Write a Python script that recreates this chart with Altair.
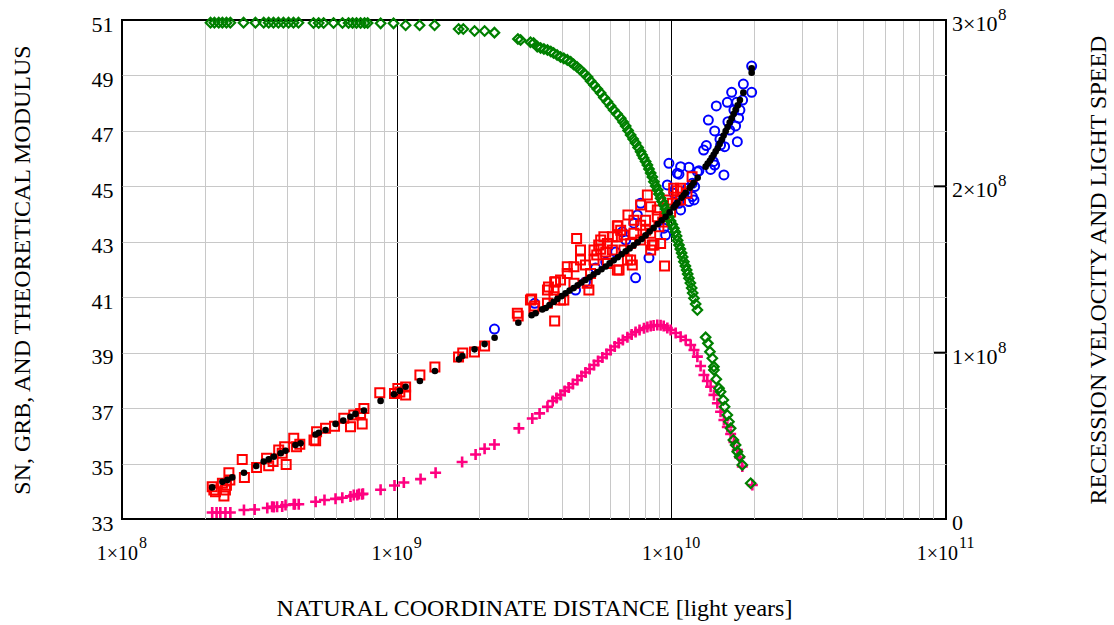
import altair as alt
import pandas as pd

FONT = "Liberation Serif"
W, H = 824, 499

# ---------------- Supernovae: distance [ly] and distance modulus ----------------
sn_dist = [
    2.13e8, 2.16e8, 2.19e8, 2.35e8, 2.32e8, 2.40e8, 2.45e8, 2.38e8, 2.47e8, 2.74e8,
    2.79e8, 3.09e8, 3.36e8, 3.42e8, 3.55e8, 3.72e8, 3.83e8, 3.91e8, 3.96e8, 4.22e8,
    4.32e8, 4.44e8, 5.00e8, 5.11e8, 5.07e8, 5.51e8, 5.94e8, 6.42e8, 6.79e8, 6.98e8,
    7.49e8, 7.60e8, 7.39e8, 8.68e8, 9.82e8, 1.010e9, 1.027e9, 1.078e9, 1.078e9, 1.215e9,
    1.378e9, 1.68e9, 1.74e9, 1.92e9, 2.09e9, 2.77e9, 3.10e9, 3.18e9, 3.76e9, 3.57e9,
    3.76e9,
    3.79e9, 4.52e9, 5.23e9, 5.53e9, 6.36e9, 6.95e9, 8.18e9, 9.45e9, 8.53e9, 7.21e9,
    6.45e9, 5.01e9, 4.94e9, 7.73e9, 1.05e10, 1.19e10, 1.01e10, 8.89e9, 7.73e9, 6.72e9,
    5.85e9, 4.67e9, 4.18e9, 3.95e9, 4.42e9, 5.23e9, 6.10e9, 7.11e9, 8.41e9, 9.01e9,
    6.72e9, 5.85e9, 5.08e9, 4.42e9, 3.74e9, 3.54e9, 3.95e9, 7.11e9, 8.41e9, 9.14e9,
    8.89e9, 9.67e9, 8.41e9, 7.31e9, 6.54e9, 5.68e9, 6.36e9, 1.08e10, 1.14e10, 6.39e9,
    3.07e9, 3.16e9, 2.75e9, 6.36e9, 4.06e9, 1.02e10, 1.08e10, 8.64e9, 6.92e9, 5.35e9,
    5.77e9, 7.73e9, 8.06e9, 9.30e9, 9.94e9, 4.87e9, 5.44e9, 4.18e9, 4.67e9, 5.53e9,
    6.10e9, 7.31e9, 8.06e9, 9.45e9, 1.05e10, 3.74e9, 3.54e9,
]
sn_mu = [
    34.16, 34.05, 33.98, 33.83, 34.29, 34.22, 34.67, 34.05, 34.41, 35.15,
    34.50, 34.86, 35.19, 34.92, 35.07, 35.49, 35.37, 35.61, 34.97, 35.91,
    35.61, 35.70, 35.85, 36.15, 35.82, 36.27, 36.35, 36.63, 36.33, 36.75,
    36.43, 36.99, 36.81, 37.55, 37.53, 37.71, 37.58, 37.76, 37.47, 38.19,
    38.48, 38.84, 38.99, 39.02, 39.24, 40.32, 40.94, 40.68, 40.14, 41.37,
    41.55,
    41.56, 43.12, 42.70, 42.73, 43.57, 43.97, 44.69, 42.13, 42.88, 42.16,
    41.98, 41.26, 41.50, 44.33, 44.84, 45.35, 44.39, 43.90, 43.60, 43.24,
    42.94, 42.34, 41.86, 41.62, 42.10, 42.34, 42.70, 42.94, 43.31, 43.54,
    42.70, 42.22, 41.86, 41.50, 41.02, 40.78, 40.90, 42.34, 42.70, 42.94,
    44.15, 44.51, 44.26, 43.78, 43.42, 43.18, 43.18, 44.51, 44.75, 43.58,
    40.90, 40.60, 40.42, 41.98, 40.90, 44.93, 44.93, 42.88, 42.34, 42.52,
    42.63, 43.06, 43.42, 43.71, 44.07, 42.16, 42.88, 42.10, 42.70, 43.06,
    43.18, 43.31, 43.78, 43.90, 44.51, 41.26, 41.26,
]

# ---------------- Gamma-ray bursts: distance [ly] and distance modulus ----------------
grb_dist = [
    2.27e9, 3.18e9, 4.48e9, 4.87e9, 5.30e9, 5.77e9, 6.27e9, 6.63e9, 6.82e9, 7.31e9,
    7.41e9, 7.52e9, 7.73e9, 8.29e9, 9.40e9, 9.53e9, 9.67e9, 9.80e9, 1.022e10, 1.051e10,
    1.066e10, 1.066e10, 1.081e10, 1.081e10, 1.144e10, 1.159e10, 1.159e10, 1.193e10, 1.193e10, 1.209e10,
    1.216e10, 1.244e10, 1.260e10, 1.341e10, 1.364e10, 1.390e10, 1.422e10, 1.438e10, 1.438e10, 1.458e10,
    1.503e10, 1.554e10, 1.563e10, 1.599e10, 1.607e10, 1.658e10, 1.690e10, 1.714e10, 1.729e10, 1.739e10,
    1.777e10, 1.829e10, 1.961e10, 1.961e10, 1.511e10, 1.631e10, 1.758e10, 1.818e10, 1.311e10,
]
grb_mu = [
    39.85, 40.78, 41.26, 41.55, 42.05, 42.27, 42.63, 43.36, 43.06, 43.67,
    41.70, 43.97, 44.39, 42.42, 43.49, 43.24, 45.05, 45.83, 44.75, 45.47,
    44.39, 45.44, 45.71, 44.15, 44.93, 45.69, 44.45, 45.11, 44.63, 44.51,
    44.99, 45.53, 45.56, 46.47, 47.39, 45.61, 45.89, 47.00, 45.77, 47.90,
    46.70, 45.41, 46.43, 48.03, 47.33, 48.39, 47.75, 47.18, 48.03, 46.61,
    47.75, 48.69, 49.34, 48.39, 46.49, 47.03, 47.46, 48.11, 46.31,
]

# ---------------- Theoretical modulus: distance [ly] and modulus ----------------
model_dist = [
    2.13e8, 2.32e8, 2.42e8, 2.52e8, 2.78e8, 3.08e8, 3.28e8, 3.42e8, 3.57e8, 3.78e8,
    3.94e8, 4.28e8, 4.47e8, 5.07e8, 5.21e8, 5.51e8, 5.99e8, 6.39e8, 6.79e8, 7.08e8,
    7.60e8, 8.74e8, 9.77e8, 1.027e9, 1.078e9, 1.215e9, 1.378e9, 1.685e9, 1.734e9, 1.921e9,
    2.090e9, 2.273e9, 2.773e9, 3.099e9, 3.205e9, 3.390e9,
    3.49e9, 3.60e9, 3.73e9, 3.85e9, 3.99e9, 4.12e9, 4.26e9, 4.41e9, 4.56e9, 4.71e9,
    4.87e9, 5.04e9, 5.21e9, 5.39e9, 5.57e9, 5.77e9, 5.96e9, 6.17e9, 6.38e9, 6.59e9,
    6.82e9, 7.05e9, 7.29e9, 7.54e9, 7.80e9, 8.06e9, 8.34e9, 8.62e9, 8.92e9, 9.22e9,
    9.53e9, 9.86e9, 1.019e10, 1.037e10, 1.054e10, 1.090e10, 1.109e10, 1.128e10, 1.166e10, 1.186e10,
    1.206e10, 1.247e10, 1.333e10, 1.356e10, 1.382e10, 1.403e10, 1.426e10, 1.450e10, 1.474e10, 1.499e10,
    1.525e10, 1.550e10, 1.577e10, 1.603e10, 1.631e10, 1.658e10, 1.686e10, 1.714e10, 1.744e10, 1.777e10,
    1.829e10, 1.961e10, 1.961e10,
]
model_mu = [
    34.14, 34.34, 34.41, 34.50, 34.67, 34.91, 35.07, 35.15, 35.25, 35.37,
    35.46, 35.67, 35.73, 36.05, 36.11, 36.21, 36.43, 36.55, 36.69, 36.79,
    36.91, 37.26, 37.50, 37.62, 37.77, 37.98, 38.34, 38.76, 38.88, 39.12,
    39.31, 39.54, 40.08, 40.35, 40.42, 40.56,
    40.61, 40.72, 40.83, 40.94, 41.04, 41.14, 41.24, 41.33, 41.43, 41.53,
    41.62, 41.72, 41.82, 41.91, 42.01, 42.11, 42.22, 42.33, 42.44, 42.55,
    42.66, 42.76, 42.87, 42.98, 43.10, 43.23, 43.37, 43.50, 43.64, 43.77,
    43.90, 44.06, 44.24, 44.33, 44.41, 44.59, 44.68, 44.77, 44.95, 45.04,
    45.13, 45.31, 45.71, 45.82, 45.92, 46.03, 46.14, 46.26, 46.37, 46.53,
    46.68, 46.83, 46.99, 47.14, 47.30, 47.45, 47.61, 47.76, 47.92, 48.11,
    48.38, 49.10, 49.26,
]

# ---------------- Light speed [m/s] along the distance ----------------
light_dist = [
    2.10e8, 2.17e8, 2.25e8, 2.32e8, 2.40e8, 2.48e8, 2.77e8, 3.06e8, 3.28e8, 3.42e8,
    3.56e8, 3.71e8, 3.87e8, 4.04e8, 4.21e8, 4.39e8, 4.98e8, 5.20e8, 5.42e8, 5.89e8,
    6.35e8, 6.68e8, 6.91e8, 7.14e8, 7.39e8, 7.64e8, 7.84e8, 8.74e8, 9.74e8, 1.078e9,
    1.212e9, 1.374e9, 1.681e9, 1.748e9, 1.921e9, 2.090e9, 2.27e9, 2.763e9, 2.826e9, 3.07e9,
    3.151e9, 3.25e9,
    3.342e9, 3.436e9, 3.54e9, 3.64e9, 3.727e9, 3.838e9, 3.95e9, 4.06e9, 4.18e9, 4.30e9,
    4.408e9, 4.539e9, 4.67e9, 4.813e9, 4.956e9, 5.08e9, 5.23e9, 5.377e9, 5.53e9, 5.68e9,
    5.85e9, 6.01e9, 6.165e9, 6.348e9, 6.54e9, 6.675e9, 6.82e9, 6.96e9, 7.11e9, 7.259e9,
    7.41e9, 7.571e9, 7.73e9, 7.83e9, 7.93e9, 8.06e9, 8.18e9, 8.29e9, 8.41e9, 8.53e9,
    8.64e9, 8.77e9, 8.92e9, 9.01e9, 9.14e9, 9.26e9, 9.38e9, 9.53e9, 9.67e9, 9.80e9,
    9.94e9, 1.008e10, 1.022e10, 1.034e10, 1.045e10, 1.054e10, 1.066e10, 1.078e10, 1.090e10, 1.100e10,
    1.111e10, 1.125e10, 1.137e10, 1.147e10, 1.159e10, 1.173e10, 1.186e10, 1.196e10, 1.209e10, 1.226e10,
    1.244e10,
    1.333e10, 1.359e10, 1.382e10, 1.410e10, 1.429e10, 1.429e10, 1.458e10, 1.491e10, 1.511e10, 1.546e10,
    1.563e10, 1.599e10, 1.621e10, 1.644e10, 1.682e10, 1.714e10, 1.739e10, 1.773e10, 1.813e10, 1.945e10,
]
light_speed = [
    2.984e8, 2.984e8, 2.984e8, 2.984e8, 2.984e8, 2.984e8, 2.984e8, 2.984e8, 2.984e8, 2.984e8,
    2.984e8, 2.984e8, 2.984e8, 2.984e8, 2.984e8, 2.984e8, 2.982e8, 2.982e8, 2.982e8, 2.982e8,
    2.982e8, 2.982e8, 2.982e8, 2.982e8, 2.982e8, 2.982e8, 2.982e8, 2.980e8, 2.980e8, 2.968e8,
    2.968e8, 2.968e8, 2.946e8, 2.946e8, 2.934e8, 2.934e8, 2.924e8, 2.886e8, 2.880e8, 2.866e8,
    2.862e8, 2.840e8,
    2.832e8, 2.826e8, 2.820e8, 2.811e8, 2.802e8, 2.790e8, 2.778e8, 2.769e8, 2.760e8, 2.748e8,
    2.733e8, 2.717e8, 2.699e8, 2.678e8, 2.657e8, 2.633e8, 2.609e8, 2.585e8, 2.561e8, 2.534e8,
    2.509e8, 2.483e8, 2.459e8, 2.435e8, 2.409e8, 2.387e8, 2.363e8, 2.336e8, 2.309e8, 2.285e8,
    2.261e8, 2.234e8, 2.208e8, 2.188e8, 2.170e8, 2.149e8, 2.128e8, 2.104e8, 2.080e8, 2.056e8,
    2.028e8, 2.002e8, 1.978e8, 1.954e8, 1.928e8, 1.909e8, 1.888e8, 1.864e8, 1.838e8, 1.816e8,
    1.792e8, 1.771e8, 1.748e8, 1.725e8, 1.701e8, 1.674e8, 1.647e8, 1.623e8, 1.599e8, 1.575e8,
    1.547e8, 1.521e8, 1.497e8, 1.473e8, 1.447e8, 1.419e8, 1.389e8, 1.359e8, 1.327e8, 1.293e8,
    1.257e8,
    1.092e8, 1.056e8, 1.006e8, 0.966e8, 0.916e8, 0.896e8, 0.840e8, 0.786e8, 0.765e8, 0.715e8,
    0.675e8, 0.625e8, 0.585e8, 0.545e8, 0.475e8, 0.445e8, 0.405e8, 0.375e8, 0.325e8, 0.215e8,
]

# ---------------- Recession velocity [m/s] along the distance ----------------
recession_dist = [
    2.13e8, 2.21e8, 2.28e8, 2.38e8, 2.48e8, 2.78e8, 3.04e8, 3.38e8, 3.52e8, 3.57e8,
    3.67e8, 3.83e8, 3.94e8, 4.22e8, 4.26e8, 4.40e8, 5.07e8, 5.46e8, 5.99e8, 6.34e8,
    6.79e8, 6.98e8, 7.19e8, 7.29e8, 7.49e8, 7.54e8, 8.74e8, 9.82e8, 1.062e9, 1.222e9,
    1.386e9, 1.731e9, 1.938e9, 2.09e9, 2.27e9, 2.786e9, 3.117e9, 3.314e9, 3.54e9,
    3.70e9, 3.82e9, 3.95e9, 4.09e9, 4.23e9, 4.38e9, 4.55e9, 4.71e9, 4.87e9, 5.04e9,
    5.23e9, 5.41e9, 5.61e9, 5.81e9, 6.01e9, 6.22e9, 6.43e9, 6.66e9, 6.92e9, 7.17e9,
    7.41e9, 7.66e9, 7.95e9, 8.18e9, 8.41e9, 8.62e9, 8.89e9, 9.14e9, 9.38e9, 9.67e9,
    9.94e9, 1.037e10, 1.081e10, 1.128e10, 1.176e10, 1.209e10, 1.244e10, 1.278e10, 1.314e10, 1.352e10,
    1.390e10, 1.429e10, 1.471e10, 1.511e10, 1.554e10, 1.599e10, 1.644e10, 1.690e10, 1.739e10, 1.773e10,
    1.813e10, 1.972e10,
]
recession_vel = [
    0.039e8, 0.039e8, 0.039e8, 0.039e8, 0.039e8, 0.054e8, 0.057e8, 0.066e8, 0.074e8, 0.072e8,
    0.074e8, 0.075e8, 0.084e8, 0.089e8, 0.088e8, 0.089e8, 0.104e8, 0.114e8, 0.121e8, 0.128e8,
    0.136e8, 0.144e8, 0.144e8, 0.150e8, 0.149e8, 0.152e8, 0.176e8, 0.201e8, 0.219e8, 0.240e8,
    0.278e8, 0.343e8, 0.388e8, 0.422e8, 0.448e8, 0.545e8, 0.604e8, 0.635e8, 0.675e8,
    0.709e8, 0.727e8, 0.746e8, 0.770e8, 0.791e8, 0.812e8, 0.836e8, 0.860e8, 0.881e8, 0.902e8,
    0.926e8, 0.950e8, 0.971e8, 0.992e8, 1.016e8, 1.037e8, 1.058e8, 1.076e8, 1.092e8, 1.109e8,
    1.124e8, 1.136e8, 1.147e8, 1.154e8, 1.160e8, 1.163e8, 1.166e8, 1.165e8, 1.160e8, 1.148e8,
    1.136e8, 1.118e8, 1.096e8, 1.076e8, 1.046e8, 1.016e8, 0.976e8, 0.920e8, 0.866e8, 0.830e8,
    0.795e8, 0.746e8, 0.696e8, 0.645e8, 0.595e8, 0.553e8, 0.511e8, 0.463e8, 0.415e8, 0.370e8,
    0.316e8, 0.204e8,
]

# ---------------- Axis ticks and their labels ----------------
mu_ticks = list(range(33, 52, 2))
x_ticks = [k * 10 ** e for e in (8, 9, 10) for k in range(1, 10)] + [10 ** 11]
decades_short = [1e8, 1e9]          # labelled 1×10^8, 1×10^9
decades_short_exp = ["8", "9"]
decades_long = [1e10, 1e11]         # labelled 1×10^10, 1×10^11
decades_long_exp = ["10", "11"]
vel_label_vals = [1e8, 2e8, 3e8]
vel_label_mant = ["1×10", "2×10", "3×10"]
vel_label_exp = ["8", "8", "8"]
vel_inner_ticks = [1e8, 2e8]


def table(d, v):
    return pd.DataFrame({"d": d, "v": v})


decade_test = "datum.value == 1e8 || datum.value == 1e9 || datum.value == 1e10 || datum.value == 1e11"
x_axis = alt.Axis(
    values=x_ticks,
    labels=False,
    grid=True,
    gridColor=alt.condition(decade_test, alt.value("#000000"), alt.value("#c8c8c8")),
    gridWidth=1,
    ticks=False,
    domain=False,
    title="NATURAL COORDINATE DISTANCE [light years]",
    titleFont=FONT,
    titleFontSize=24,
    titleFontWeight="normal",
    titleColor="black",
    titleX=W / 2,
    titleY=89,
    titleAlign="center",
    titleBaseline="middle",
)
x_enc = alt.X("d:Q", scale=alt.Scale(type="log", domain=[1e8, 1e11], nice=False), axis=x_axis)

mu_scale = alt.Scale(domain=[33, 51], nice=False, zero=False)
vel_scale = alt.Scale(domain=[0, 3e8], nice=False, zero=False)

mu_axis = alt.Axis(
    values=mu_ticks,
    grid=True,
    gridColor=alt.condition("datum.value == 33 || datum.value == 51",
                            alt.value("#000000"), alt.value("#c8c8c8")),
    gridWidth=1,
    ticks=False,
    domain=False,
    labelFont=FONT,
    labelFontSize=22,
    labelColor="black",
    labelPadding=9,
    labelOffset=4,
    title="SN, GRB, AND THEORETICAL MODULUS",
    titleFont=FONT,
    titleFontSize=24,
    titleFontWeight="normal",
    titleColor="black",
    titleX=-100,
    titleY=H / 2,
    titleAngle=270,
    titleAlign="center",
    titleBaseline="middle",
)

vel_axis = alt.Axis(
    orient="right",
    values=[0, 3e8],
    labels=False,
    grid=False,
    ticks=False,
    domain=False,
    title="RECESSION VELOCITY AND LIGHT SPEED",
    titleFont=FONT,
    titleFontSize=24,
    titleFontWeight="normal",
    titleColor="black",
    titleX=152,
    titleY=H / 2,
    titleAngle=270,
    titleAlign="center",
    titleBaseline="middle",
)

plus_path = "M-1,0L1,0M0,-1L0,1"

recession = alt.Chart(table(recession_dist, recession_vel)).mark_point(
    shape=plus_path, filled=False, stroke="#ff0080", strokeWidth=2.6, size=121, opacity=1
).encode(x=x_enc, y=alt.Y("v:Q", scale=vel_scale, axis=vel_axis))

grb = alt.Chart(table(grb_dist, grb_mu)).mark_point(
    shape="circle", filled=False, stroke="#0000ff", strokeWidth=2, size=81, opacity=1
).encode(x=x_enc, y=alt.Y("v:Q", scale=mu_scale, axis=None))

sn = alt.Chart(table(sn_dist, sn_mu)).mark_point(
    shape="square", filled=False, stroke="#ff0000", strokeWidth=2, size=81, opacity=1
).encode(x=x_enc, y=alt.Y("v:Q", scale=mu_scale, axis=mu_axis))

light = alt.Chart(table(light_dist, light_speed)).mark_point(
    shape="diamond", filled=False, stroke="#008000", strokeWidth=2.2, size=90, opacity=1
).encode(x=x_enc, y=alt.Y("v:Q", scale=vel_scale, axis=None))

model = alt.Chart(table(model_dist, model_mu)).mark_point(
    shape="circle", filled=True, fill="#000000", strokeWidth=0, size=44, opacity=1
).encode(x=x_enc, y=alt.Y("v:Q", scale=mu_scale, axis=None))

# short inward tick marks on the right-hand axis
inner_ticks = alt.Chart(pd.DataFrame({"v": vel_inner_ticks})).mark_rule(
    color="black", strokeWidth=2
).encode(
    y=alt.Y("v:Q", scale=vel_scale, axis=None),
    x=alt.value(W - 12),
    x2=alt.value(W),
)

# decade labels under the horizontal axis, written as 1×10 with a raised exponent
LABEL_Y = H + 41


def decade_labels(values, exps, base_dx):
    df = pd.DataFrame({"d": values, "e": exps})
    base = alt.Chart(df).mark_text(
        text="1×10", align="right", baseline="alphabetic", dx=base_dx,
        font=FONT, fontSize=20, color="black"
    ).encode(x=x_enc, y=alt.value(LABEL_Y))
    power = alt.Chart(df).mark_text(
        align="left", baseline="alphabetic", dx=base_dx + 1, dy=-12,
        font=FONT, fontSize=16, color="black"
    ).encode(x=x_enc, y=alt.value(LABEL_Y), text="e:N")
    return [base, power]


x_labels = decade_labels(decades_short, decades_short_exp, 16) + \
    decade_labels(decades_long, decades_long_exp, 12)

# labels of the right-hand axis, 0 … 3×10^8
vel_df = pd.DataFrame({"v": vel_label_vals, "m": vel_label_mant, "e": vel_label_exp})
vel_base = alt.Chart(vel_df).mark_text(
    align="left", baseline="alphabetic", dy=11, font=FONT, fontSize=22, color="black"
).encode(y=alt.Y("v:Q", scale=vel_scale, axis=None), x=alt.value(W + 6), text="m:N")
vel_power = alt.Chart(vel_df).mark_text(
    align="left", baseline="alphabetic", dy=0, font=FONT, fontSize=17, color="black"
).encode(y=alt.Y("v:Q", scale=vel_scale, axis=None), x=alt.value(W + 52), text="e:N")
vel_zero = alt.Chart(pd.DataFrame({"v": [0]})).mark_text(
    text="0", align="left", baseline="alphabetic", dy=11, font=FONT, fontSize=22, color="black"
).encode(y=alt.Y("v:Q", scale=vel_scale, axis=None), x=alt.value(W + 6))

chart = (
    alt.layer(recession, grb, sn, light, model, inner_ticks,
              *x_labels, vel_base, vel_power, vel_zero)
    .resolve_scale(y="independent")
    .properties(
        width=W,
        height=H,
        autosize=alt.AutoSizeParams(type="none"),
        padding={"left": 122, "top": 20, "right": 1114 - 122 - W, "bottom": 625 - 20 - H},
        background="white",
    )
    .configure_view(stroke="#000000", strokeWidth=2)
)

chart.save("out.html", embed_options={"renderer": "svg", "actions": False})
